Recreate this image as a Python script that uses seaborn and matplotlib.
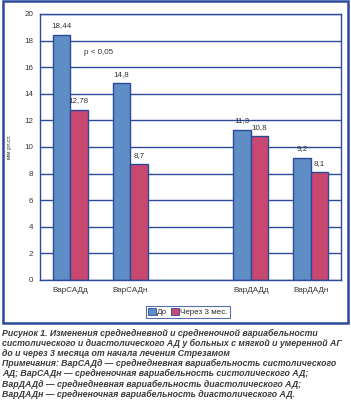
import numpy as np
import pandas as pd
import matplotlib
matplotlib.use("Agg")
import matplotlib.pyplot as plt
import seaborn as sns
from matplotlib.patches import Rectangle

# Данные
categories = ["ВарСАДд", "ВарСАДн", " ", "ВарДАДд", "ВарДАДн"]
groups = ["ВарСАДд", "ВарСАДн", "ВарДАДд", "ВарДАДн"]
before = [18.44, 14.8, 11.3, 9.2]
after = [12.78, 8.7, 10.8, 8.1]
series = ["До", "Через 3 мес."]
colors = ["#5f8ec6", "#c8486f"]

df = pd.DataFrame({
    "group": groups * 2,
    "value": before + after,
    "period": [series[0]] * 4 + [series[1]] * 4,
})

navy = "#2b4a9a"
sns.set_style("white")
plt.rcParams["font.family"] = ["Liberation Sans", "DejaVu Sans"]

fig = plt.figure(figsize=(3.51, 4.0), dpi=100)
ax = fig.add_axes([40 / 351, 1 - 280 / 400, 301 / 351, 266 / 400])

sns.barplot(data=df, x="group", y="value", hue="period", order=categories,
            hue_order=series, palette=colors, saturation=1, width=0.58, ax=ax,
            edgecolor=navy, linewidth=1.0, legend=False, errorbar=None)

# подписи значений
for cont in ax.containers:
    labels = [f"{v:g}".replace(".", ",") for v in cont.datavalues]
    ax.bar_label(cont, labels=labels, padding=4, fontsize=5.8, color="#333333")

ax.set_ylim(0, 20)
ax.set_xlim(-0.5, 4.5)
ax.set_yticks(range(0, 21, 2))
ax.yaxis.grid(True, color=navy, linewidth=1.0)
ax.set_axisbelow(True)
for s in ax.spines.values():
    s.set_color(navy)
    s.set_linewidth(1.0)
ax.tick_params(axis="y", colors=navy, length=3, width=1, labelsize=5.8,
               labelcolor="#333333", pad=2)
ax.tick_params(axis="x", which="major", length=0, labelsize=5.8,
               labelcolor="#333333", pad=5)
ax.set_xticks(np.arange(-0.5, 5, 1), minor=True)
ax.tick_params(axis="x", which="minor", length=3, width=1, colors=navy)
ax.set_xlabel("")
ax.set_ylabel("мм рт.ст.", fontsize=4.5, color="#333333", labelpad=9)

ax.text(0.48, 17.1, "p < 0,05", fontsize=5.8, color="#333333",
        ha="center", va="center")

# легенда
handles = [Rectangle((0, 0), 1, 1, facecolor=c, edgecolor=navy, linewidth=0.6)
           for c in colors]
fig.legend(handles, series, loc="center", bbox_to_anchor=(188 / 351, 1 - 312 / 400),
           ncol=2, fontsize=5.8, frameon=True, fancybox=False, edgecolor=navy,
           handlelength=0.9, handleheight=0.9, handletextpad=0.2,
           columnspacing=0.5, borderpad=0.3, borderaxespad=0)
fig.legends[0].get_frame().set_linewidth(0.8)

# рамка
fig.add_artist(Rectangle((3 / 351, 1 - 323 / 400), 345 / 351, 322 / 400,
                         transform=fig.transFigure, fill=False,
                         edgecolor=navy, linewidth=1.8))

caption = [
    "Рисунок 1. Изменения среднедневной и средненочной вариабельности",
    "систолического и диастолического АД у больных с мягкой и умеренной АГ",
    "до и через 3 месяца от начала лечения Стрезамом",
    "Примечания: ВарСАДд — среднедневная вариабельность систолического",
    "АД; ВарСАДн — средненочная вариабельность систолического АД;",
    "ВарДАДд — среднедневная вариабельность диастолического АД;",
    "ВарДАДн — средненочная вариабельность диастолического АД.",
]
for i, line in enumerate(caption):
    fig.text(2 / 351, 1 - (333 + 10.2 * i) / 400, line, fontsize=6.3,
             fontweight="bold", fontstyle="italic", color="#3a3a3a",
             va="center", ha="left")

fig.savefig("out.png", dpi=100)
